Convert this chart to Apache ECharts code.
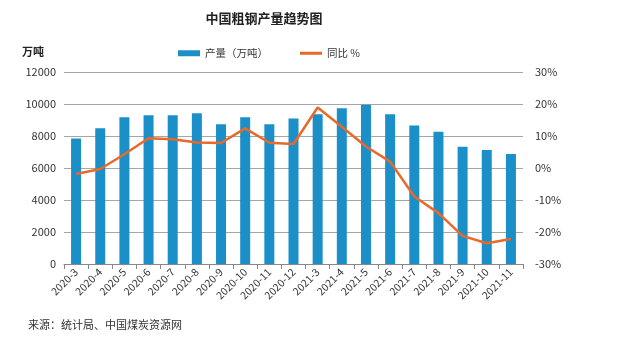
<!DOCTYPE html>
<html><head><meta charset="utf-8">
<script src="https://cdn.jsdelivr.net/npm/echarts@6/dist/echarts.min.js"></script>
<style>html,body{margin:0;padding:0;background:#fff}#c{width:619px;height:342px}</style>
</head><body><div id="c"></div>
<script>
const categories = ['2020-3','2020-4','2020-5','2020-6','2020-7','2020-8','2020-9','2020-10','2020-11','2020-12','2021-3','2021-4','2021-5','2021-6','2021-7','2021-8','2021-9','2021-10','2021-11'];
const output = [7850, 8480, 9170, 9290, 9300, 9420, 8730, 9170, 8740, 9100, 9360, 9740, 9960, 9360, 8660, 8270, 7330, 7120, 6870];
const yoy = [-1.9, -0.3, 4.3, 9.3, 9.0, 8.0, 7.8, 12.4, 7.9, 7.5, 18.9, 12.9, 6.7, 2.0, -8.9, -14.1, -21.2, -23.5, -22.2];
const leftTicks = [0, 12000, 2000];
const rightTicks = [-30, 30, 10];

const FONT = '"Noto Sans CJK SC", "Noto Sans", sans-serif';
const chart = echarts.init(document.getElementById('c'));
chart.setOption({
  animation: false,
  textStyle: {fontFamily: FONT},
  title: {text: '中国粗钢产量趋势图', left: 259, top: 7, textAlign: 'center',
    textStyle: {fontSize: 13, fontWeight: 'bold', color: '#222', fontFamily: FONT}},
  legend: {top: 43, left: 173, itemGap: 32, itemWidth: 22, itemHeight: 6,
    textStyle: {fontSize: 10.5, color: '#333', fontFamily: FONT},
    data: [{name: '产量（万吨）', icon: 'rect'}, {name: '同比 %', icon: 'path://M0,0H22V3H0Z'}]},
  graphic: [
    {type: 'text', left: 22, top: 46, style: {text: '万吨', font: 'bold 11px ' + FONT, fill: '#222'}},
    {type: 'text', left: 28, top: 319, style: {text: '来源：统计局、中国煤炭资源网', font: '11px ' + FONT, fill: '#333'}}
  ],
  grid: {left: 64, right: 96, top: 72, bottom: 78},
  xAxis: {type: 'category', data: categories,
    axisLine: {lineStyle: {color: '#888'}},
    axisTick: {show: true, alignWithLabel: false, lineStyle: {color: '#888'}},
    axisLabel: {rotate: 45, fontSize: 10.5, color: '#333', interval: 0, margin: 6}},
  yAxis: [
    {type: 'value', min: leftTicks[0], max: leftTicks[1], interval: leftTicks[2],
      axisLine: {show: false}, axisTick: {show: false},
      axisLabel: {fontSize: 11, color: '#333', margin: 8, formatter: v => String(v)},
      splitLine: {lineStyle: {color: '#a6a6a6'}}},
    {type: 'value', min: rightTicks[0], max: rightTicks[1], interval: rightTicks[2],
      axisLine: {show: false}, axisTick: {show: false},
      axisLabel: {fontSize: 11, color: '#333', margin: 12, formatter: '{value}%'},
      splitLine: {show: false}}
  ],
  series: [
    {name: '产量（万吨）', type: 'bar', data: output, barWidth: 10,
      itemStyle: {color: '#1b8fc8'}},
    {name: '同比 %', type: 'line', yAxisIndex: 1, data: yoy, symbol: 'none',
      lineStyle: {color: '#e8692a', width: 2.5}, itemStyle: {color: '#e8692a'}}
  ]
});
</script></body></html>
